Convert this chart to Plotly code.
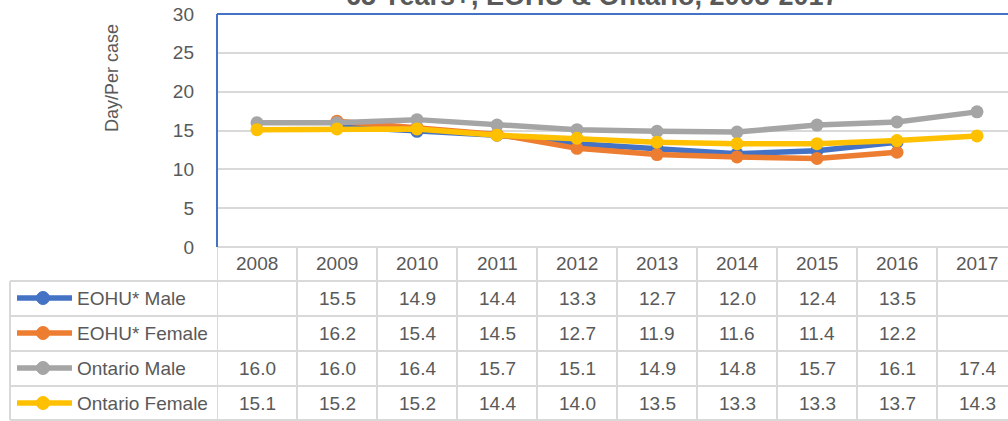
import plotly.graph_objects as go

# ---------------- data ----------------
years = ["2008", "2009", "2010", "2011", "2012", "2013", "2014", "2015", "2016", "2017"]
series_names = ["EOHU* Male", "EOHU* Female", "Ontario Male", "Ontario Female"]
eohu_male = [None, 15.5, 14.9, 14.4, 13.3, 12.7, 12.0, 12.4, 13.5, None]
eohu_female = [None, 16.2, 15.4, 14.5, 12.7, 11.9, 11.6, 11.4, 12.2, None]
ontario_male = [16.0, 16.0, 16.4, 15.7, 15.1, 14.9, 14.8, 15.7, 16.1, 17.4]
ontario_female = [15.1, 15.2, 15.2, 14.4, 14.0, 13.5, 13.3, 13.3, 13.7, 14.3]
y_ticks = [0, 5, 10, 15, 20, 25, 30]
title_text = "65 Years+, EOHU & Ontario, 2008-2017"
y_title = "Day/Per case"
footnote = "EOHU* S"

# ---------------- style / layout ----------------
W, H = 1008, 421
colors = ["#4472C4", "#ED7D31", "#A5A5A5", "#FFC000"]
TXT = "#595959"
GRID = "#D9D9D9"
FONT = "Liberation Sans, Arial, sans-serif"
FS = 19

PLOT_L, PLOT_T, PLOT_B = 217, 14, 247
COL_W = 80
row_centers = [298, 333, 368, 403]
row_lines = [281, 316, 351, 386, 420]
header_y = 263
TABLE_L = 10


def px(x):
    return x / W


def py(y):
    return 1 - y / H


fig = go.Figure()
all_series = [eohu_male, eohu_female, ontario_male, ontario_female]
for name, vals, c in zip(series_names, all_series, colors):
    fig.add_trace(go.Scatter(
        x=years, y=vals, mode="lines+markers", name=name,
        line=dict(color=c, width=5.5),
        marker=dict(size=13, color=c),
        connectgaps=False, hoverinfo="x+y+name",
    ))

shapes = []
annotations = []

# x-axis line (bottom of plot / top of header)
shapes.append(dict(type="line", xref="paper", yref="paper",
                   x0=px(PLOT_L), x1=1.0, y0=py(PLOT_B), y1=py(PLOT_B),
                   line=dict(color=GRID, width=2), layer="above"))
# blue plot-area border (top and left)
shapes.append(dict(type="line", xref="paper", yref="paper",
                   x0=px(PLOT_L), x1=1.0, y0=py(PLOT_T), y1=py(PLOT_T),
                   line=dict(color="#4472C4", width=2), layer="above"))
shapes.append(dict(type="line", xref="paper", yref="paper",
                   x0=px(PLOT_L), x1=px(PLOT_L), y0=py(PLOT_B), y1=py(PLOT_T),
                   line=dict(color="#4472C4", width=2), layer="above"))

# table horizontal lines
for yl in row_lines:
    shapes.append(dict(type="line", xref="paper", yref="paper",
                       x0=px(TABLE_L), x1=1.0, y0=py(yl), y1=py(yl),
                       line=dict(color=GRID, width=2)))
# table left border
shapes.append(dict(type="line", xref="paper", yref="paper",
                   x0=px(TABLE_L), x1=px(TABLE_L), y0=py(row_lines[0]), y1=py(row_lines[-1]),
                   line=dict(color=GRID, width=2)))
# column separators (category boundaries on the x axis)
for k in range(len(years) + 1):
    shapes.append(dict(type="line", xref="x", yref="paper",
                       x0=k - 0.5, x1=k - 0.5, y0=py(PLOT_B), y1=py(row_lines[-1]),
                       line=dict(color=GRID, width=2)))

# header years (positioned by category index on the x axis)
for j, yr in enumerate(years):
    annotations.append(dict(x=j, xref="x", y=py(header_y), yref="paper",
                            text=yr, showarrow=False, xanchor="center", yanchor="middle",
                            font=dict(size=FS, color=TXT, family=FONT)))

# rows: legend keys, labels, values
for i, (name, vals, c) in enumerate(zip(series_names, all_series, colors)):
    yc = row_centers[i]
    shapes.append(dict(type="line", xref="paper", yref="paper",
                       x0=px(17), x1=px(72), y0=py(yc), y1=py(yc),
                       line=dict(color=c, width=5.5)))
    shapes.append(dict(type="circle", xref="paper", yref="paper",
                       x0=px(43 - 6.5), x1=px(43 + 6.5), y0=py(yc + 6.5), y1=py(yc - 6.5),
                       fillcolor=c, line=dict(color=c, width=1)))
    annotations.append(dict(x=px(75), xref="paper", y=py(yc), yref="paper",
                            text=name, showarrow=False, xanchor="left", yanchor="middle",
                            font=dict(size=FS, color=TXT, family=FONT)))
    for j, v in enumerate(vals):
        if v is None:
            continue
        annotations.append(dict(x=j, xref="x", y=py(yc), yref="paper",
                                text=f"{v:.1f}", showarrow=False,
                                xanchor="center", yanchor="middle",
                                font=dict(size=FS, color=TXT, family=FONT)))

# title (cut off at top)
annotations.append(dict(x=px(592), xref="paper", y=py(-4), yref="paper",
                        text=f"<b>{title_text}</b>", showarrow=False,
                        xanchor="center", yanchor="middle",
                        font=dict(size=27, color=TXT, family=FONT)))
# y-axis title
annotations.append(dict(x=px(112), xref="paper", y=py(78), yref="paper",
                        text=y_title, textangle=-90, showarrow=False,
                        xanchor="center", yanchor="middle",
                        font=dict(size=18, color=TXT, family=FONT)))
# footnote (cut off at bottom)
annotations.append(dict(x=px(266), xref="paper", y=py(416), yref="paper",
                        text=f"<b>{footnote}</b>", showarrow=False,
                        xanchor="left", yanchor="top",
                        font=dict(size=19, color="#000000", family=FONT)))

fig.update_layout(
    width=W, height=H,
    margin=dict(l=0, r=0, t=0, b=0, pad=0, autoexpand=False),
    paper_bgcolor="white", plot_bgcolor="white",
    showlegend=False,
    shapes=shapes, annotations=annotations,
    xaxis=dict(type="category", domain=[px(PLOT_L), 1.0],
               range=[-0.5, -0.5 + (W - PLOT_L) / COL_W],
               showticklabels=False, showgrid=False, zeroline=False, showline=False,
               automargin=False, fixedrange=True),
    yaxis=dict(domain=[py(PLOT_B), py(PLOT_T)], range=[0, 30],
               tickvals=y_ticks, showgrid=True, gridcolor=GRID, gridwidth=2,
               zeroline=False, showline=False, ticks="",
               ticklabelstandoff=22, automargin=False,
               tickfont=dict(size=FS, color=TXT, family=FONT),
               fixedrange=True),
)

fig.write_html(
    "out.html",
    config={"displayModeBar": False},
    post_script="document.body.style.margin='0';document.body.style.overflow='hidden';",
)
